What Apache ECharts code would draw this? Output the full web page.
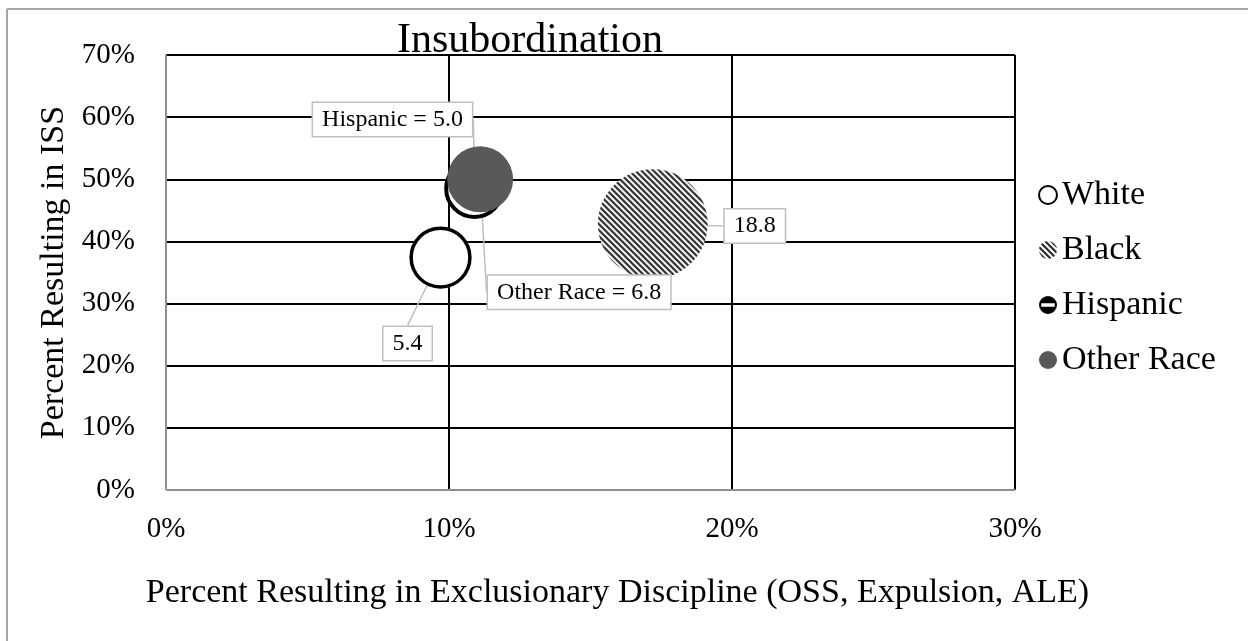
<!DOCTYPE html>
<html>
<head>
<meta charset="utf-8">
<script src="https://cdn.jsdelivr.net/npm/echarts@6/dist/echarts.min.js"></script>
<style>
  html, body { margin: 0; padding: 0; background: #fff; }
  #chart { width: 1248px; height: 641px; }
</style>
</head>
<body>
<div id="chart"></div>
<script>
// data
const groups = ["White", "Black", "Hispanic", "Other Race"];
const exclPct = [9.7, 17.2, 10.9, 11.1];   // x: exclusionary discipline %
const issPct = [37.4, 42.8, 48.5, 50.0];   // y: resulting in ISS %
const bubbleSize = [5.4, 18.8, 5.0, 6.8];
const showName = [false, false, true, true];
const xTicks = [0, 10, 20, 30];
const yTicks = [0, 10, 20, 30, 40, 50, 60, 70];

const FONT = "Liberation Serif";
const SIZE_K = 25.3;
const bubbleDiam = (v) => SIZE_K * Math.sqrt(v);

// striped fill for the Black bubble; symbols are drawn scaled, so undo that
function stripes(scale) {
  const c = document.createElement("canvas");
  c.width = 6;
  c.height = 6;
  const g = c.getContext("2d");
  g.fillStyle = "#fff";
  g.fillRect(0, 0, 6, 6);
  g.strokeStyle = "#2b2b2b";
  g.lineWidth = 2.2;
  g.beginPath();
  g.moveTo(-1, -1); g.lineTo(7, 7);
  g.moveTo(-7, -1); g.lineTo(1, 7);
  g.moveTo(5, -1); g.lineTo(13, 7);
  g.stroke();
  return { image: c, repeat: "repeat", scaleX: scale, scaleY: scale };
}

const styles = [
  { color: "#fff", borderColor: "#000", borderWidth: 3.5 },
  { color: stripes(2 / bubbleDiam(bubbleSize[1])), borderWidth: 0 },
  { color: "#fff", borderColor: "#000", borderWidth: 4 },
  { color: "#595959", borderWidth: 0 },
];
const hispIcon =
  "path://M10 0A10 10 0 1 1 10 20A10 10 0 1 1 10 0ZM2.5 8L2.5 12L17.5 12L17.5 8Z";
const legendItems = [
  { icon: "circle", itemStyle: { color: "#fff", borderColor: "#000", borderWidth: 2 } },
  { icon: "circle", itemStyle: { color: stripes(1), borderWidth: 0 } },
  { icon: hispIcon, itemStyle: { color: "#000", borderWidth: 0 } },
  { icon: "circle", itemStyle: { color: "#595959", borderWidth: 0 } },
];
// label offsets from the bubble centre
const labelShift = [[-33, 86], [102, 2], [-82, -69], [99, 113]];

const chart = echarts.init(document.getElementById("chart"));

const series = groups.map((g, i) => ({
  name: g,
  type: "scatter",
  data: [[exclPct[i], issPct[i], bubbleSize[i]]],
  symbolSize: (d) => bubbleDiam(d[2]),
  itemStyle: Object.assign({ opacity: 1 }, styles[i]),
  label: {
    show: true,
    position: "inside",
    formatter: (p) =>
      (showName[i] ? g + " = " : "") + p.data[2].toFixed(1),
    fontFamily: FONT,
    fontSize: 24,
    color: "#000",
    backgroundColor: "#fff",
    borderColor: "#bfbfbf",
    borderWidth: 1.5,
    padding: [5, 9, 4, 9],
  },
  labelLine: {
    show: true,
    lineStyle: { color: "#bfbfbf", width: 1.5 },
  },
  labelLayout: { dx: labelShift[i][0], dy: labelShift[i][1] },
  emphasis: { disabled: true },
}));

const option = {
  backgroundColor: "#fff",
  animation: false,
  title: {
    text: "Insubordination",
    left: 392,
    top: 15,
    textStyle: { fontFamily: FONT, fontSize: 42, fontWeight: "normal", color: "#000" },
  },
  graphic: [
    {
      type: "line",
      shape: { x1: 7, y1: 9, x2: 7, y2: 641 },
      style: { stroke: "#a6a6a6", lineWidth: 2 },
      silent: true,
    },
    {
      type: "line",
      shape: { x1: 7, y1: 9, x2: 1248, y2: 9 },
      style: { stroke: "#a6a6a6", lineWidth: 2 },
      silent: true,
    },
  ],
  legend: {
    orient: "vertical",
    left: 1033,
    top: 173,
    itemWidth: 18,
    itemHeight: 18,
    itemGap: 21,
    data: groups.map((g, i) => Object.assign({ name: g }, legendItems[i])),
    textStyle: { fontFamily: FONT, fontSize: 34, color: "#000" },
  },
  grid: { left: 166, right: 233, top: 55, bottom: 151 },
  xAxis: {
    type: "value",
    min: xTicks[0],
    max: xTicks[xTicks.length - 1],
    interval: 10,
    name: "Percent Resulting in Exclusionary Discipline (OSS, Expulsion, ALE)",
    nameLocation: "middle",
    nameGap: 86,
    nameTextStyle: { fontFamily: FONT, fontSize: 34, color: "#000", padding: [0, 0, 0, 54] },
    axisLine: { lineStyle: { color: "#bfbfbf", width: 1.5 } },
    axisTick: { show: false },
    axisLabel: { formatter: "{value}%", fontFamily: FONT, fontSize: 29, color: "#000", margin: 25 },
    splitLine: { lineStyle: { color: "#000", width: 2 } },
  },
  yAxis: {
    type: "value",
    min: yTicks[0],
    max: yTicks[yTicks.length - 1],
    interval: 10,
    name: "Percent Resulting in ISS",
    nameLocation: "middle",
    nameGap: 85,
    nameTextStyle: { fontFamily: FONT, fontSize: 34, color: "#000" },
    axisLine: { show: true, lineStyle: { color: "#bfbfbf", width: 1.5 } },
    axisTick: { show: false },
    axisLabel: { formatter: "{value}%", fontFamily: FONT, fontSize: 29, color: "#000", margin: 31 },
    splitLine: { lineStyle: { color: "#000", width: 2 } },
  },
  series: series,
};

chart.setOption(option);
</script>
</body>
</html>
